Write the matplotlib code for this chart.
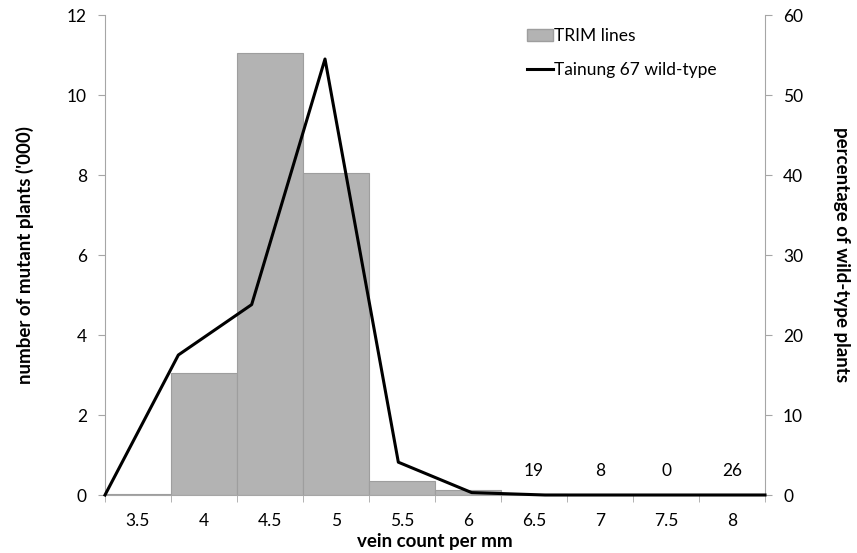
import numpy as np
from matplotlib import pyplot as plt
from matplotlib.patches import Patch
from matplotlib.lines import Line2D

categories = ['3.5', '4', '4.5', '5', '5.5', '6', '6.5', '7', '7.5', '8']
mutant_k = [0.02, 3.06, 11.06, 8.04, 0.35, 0.12, 0.019, 0.008, 0.0, 0.026]
wild_pct = [0.0, 17.5, 23.8, 54.5, 4.1, 0.3, 0.0, 0.0, 0.0, 0.0]
count_labels = ['', '', '', '', '', '', '19', '8', '0', '26']

gray = '#a6a6a6'
plt.rcParams['font.family'] = ['Lato', 'DejaVu Sans']
fs = 12.5
lfs = 13.5

fig = plt.figure(figsize=(8.57, 5.53), dpi=100)
ax = fig.add_axes([105/857, 1-495/553, 660/857, 480/553])

x = np.arange(len(categories))
ax.bar(x, mutant_k, width=1.0, color='#b3b3b3', edgecolor='#9e9e9e', linewidth=0.8, zorder=2)
ax.set_xlim(-0.5, len(categories)-0.5)
ax.set_ylim(0, 12)
ax.set_yticks(range(0, 13, 2))
ax.set_xticks(x)
ax.set_xticklabels(categories, fontsize=fs)
ax.set_xticks(np.arange(-0.5, len(categories)), minor=True)
ax.tick_params(axis='x', which='major', length=0, pad=13)
ax.tick_params(axis='x', which='minor', length=5, color=gray, direction='out')
ax.tick_params(axis='y', length=5, color=gray, labelsize=fs, pad=8)
for s in ['top', 'right']:
    ax.spines[s].set_visible(False)
for s in ['left', 'bottom']:
    ax.spines[s].set_color(gray)

for xi, v, lab in zip(x, mutant_k, count_labels):
    if lab:
        ax.text(xi, 0.4, lab, ha='center', va='bottom', fontsize=fs)

ax.set_xlabel('vein count per mm', fontsize=lfs, fontweight='bold', labelpad=3)
ax.set_ylabel("number of mutant plants ('000)", fontsize=lfs, fontweight='bold', labelpad=24)

ax2 = ax.twinx()
line_x = np.linspace(-0.5, len(categories)-0.5, len(wild_pct))
ax2.plot(line_x, wild_pct, color='black', linewidth=2.2, zorder=3, clip_on=False)
ax2.set_ylim(0, 60)
ax2.set_yticks(range(0, 61, 10))
ax2.tick_params(axis='y', length=5, color=gray, labelsize=fs, pad=8)
for s in ['top', 'left', 'bottom']:
    ax2.spines[s].set_visible(False)
ax2.spines['right'].set_color(gray)
ax2.set_ylabel('percentage of wild-type plants', fontsize=lfs, fontweight='bold',
               rotation=270, labelpad=34)

handles = [Patch(facecolor='#b3b3b3', edgecolor='#9e9e9e', label='TRIM lines'),
           Line2D([0], [0], color='black', linewidth=2.2, label='Tainung 67 wild-type')]
ax2.legend(handles=handles, loc='upper left', bbox_to_anchor=(0.615, 1.005), frameon=False,
           fontsize=fs, handlelength=1.5, handletextpad=0.1, labelspacing=1.0)

fig.savefig('out.png', dpi=100)
